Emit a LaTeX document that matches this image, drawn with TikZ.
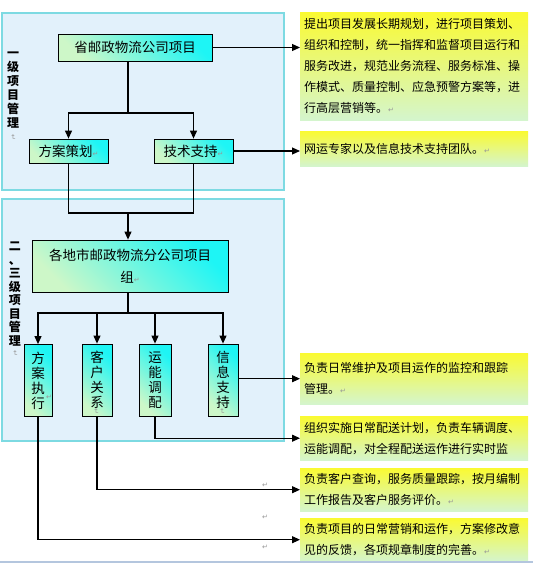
\documentclass[tikz,border=0pt]{standalone}
\usepackage{fontspec}
\setmainfont{Noto Sans CJK SC}
\newfontfamily\dvfont{DejaVu Sans}
\usetikzlibrary{arrows.meta}
\definecolor{panelfill}{RGB}{226,241,251}
\definecolor{panelline}{RGB}{125,218,226}
\definecolor{boxcyan}{RGB}{30,245,245}
\definecolor{boxgreen}{RGB}{205,247,200}
\definecolor{txtyellow}{RGB}{250,250,50}
\definecolor{txtgreen}{RGB}{212,245,205}
\definecolor{markgray}{RGB}{150,150,150}
\definecolor{footline}{RGB}{180,198,222}
\newcommand\retmark{{\dvfont\color{markgray}\fontsize{7}{7}\selectfont ↵}}
\begin{document}
\begin{tikzpicture}[x=1pt,y=-1pt,
  panel/.style={draw=panelline, fill=panelfill, line width=1.2pt},
  unit/.style={draw=black, line width=0.8pt, top color=boxcyan, bottom color=boxgreen, shading angle=-45, inner sep=0pt, align=center, font=\fontsize{13.5}{22}\selectfont},
  vunit/.style={unit, minimum height=72pt, font=\fontsize{13.5}{15}\selectfont},
  note/.style={top color=txtyellow, bottom color=txtgreen, minimum width=228pt, text width=220pt, inner xsep=4pt, inner ysep=0pt, align=left, anchor=north west, font=\fontsize{12}{21}\selectfont},
  conn/.style={line width=1.1pt, draw=black},
  arr/.style={conn, -{Triangle[length=8pt,width=7pt]}},
  side/.style={font=\bfseries\fontsize{12}{14}\selectfont, align=center, inner sep=0pt},
  stray/.style={inner sep=0pt}
]
\useasboundingbox (0,0) rectangle (533,563);
\fill[white] (0,0) rectangle (533,563);

% panels
\draw[panel] (2,13) rectangle (284,190);
\draw[panel] (2,199) rectangle (284,441);

% side labels
\node[side] (lab1) at (13,90) {一\\级\\项\\目\\管\\理};
\node[stray, rotate=-90] (lab1m) at (13,137) {\retmark};
\node[side, font=\bfseries\fontsize{12}{13.5}\selectfont] (lab2) at (15,294) {二\\、\\三\\级\\项\\目\\管\\理};
\node[stray, rotate=-90] (lab2m) at (15,353) {\retmark};

% units
\node[unit, minimum width=154pt, minimum height=27pt] (top) at (135,47.5) {省邮政物流公司项目};
\node[unit, minimum width=79pt, minimum height=24pt] (plan) at (68.5,151) {方案策划\retmark};
\node[unit, minimum width=79pt, minimum height=24pt] (tech) at (193.5,151) {技术支持\retmark};
\node[unit, minimum width=196pt, minimum height=52pt] (region) at (130,266) {各地市邮政物流分公司项目\\组\retmark};
\node[vunit, minimum width=28pt] (exec) at (38,380.5) {方\\案\\执\\行};
\node[vunit, minimum width=30pt] (cust) at (97,380) {客\\户\\关\\系};
\node[vunit, minimum width=32pt] (cap) at (155,380) {运\\能\\调\\配};
\node[vunit, minimum width=30pt] (info) at (223,380) {信\\息\\支\\持};
\node[stray] (execm) at (49,397) {\retmark};
\node[stray, rotate=-90] (custm) at (96,411) {\retmark};
\node[stray, rotate=-90] (infom) at (222,411) {\retmark};

% notes
\node[note, minimum height=108pt] (nA) at (300,12) {提出项目发展长期规划，进行项目策划、\\组织和控制，统一指挥和监督项目运行和\\服务改进，规范业务流程、服务标准、操\\作模式、质量控制、应急预警方案等，进\\行高层营销等。\retmark};
\node[note, minimum height=35pt] (nB) at (300,131) {网运专家以及信息技术支持团队。\retmark};
\node[note, minimum height=51pt] (nC) at (300,353) {负责日常维护及项目运作的监控和跟踪\\管理。\retmark};
\node[note, minimum height=44pt] (nD) at (300,416) {组织实施日常配送计划，负责车辆调度、\\运能调配，对全程配送运作进行实时监};
\node[note, minimum height=43pt] (nE) at (300,468) {负责客户查询，服务质量跟踪，按月编制\\工作报告及客户服务评价。\retmark};
\node[note, minimum height=43pt] (nF) at (300,518) {负责项目的日常营销和运作，方案修改意\\见的反馈，各项规章制度的完善。\retmark};

% stray paragraph marks
\node[stray] (m1) at (265,485) {\retmark};
\node[stray] (m2) at (265,517) {\retmark};
\node[stray] (m3) at (265,547) {\retmark};

% connectors
\coordinate (j1) at (128,113);
\coordinate (j2) at (128,213);
\coordinate (j3) at (128,313);
\draw[conn] (j1 |- top.south) -- (j1);
\draw[arr] (j1) -| (plan);
\draw[arr] (j1) -| (tech);
\draw[conn] (plan.south) |- (tech.south |- j2) -- (tech.south);
\draw[arr] (j2) -- (j2 |- region.north);
\draw[conn] (j2 |- region.south) -- (j3);
\draw[arr] (j3) -| (exec);
\draw[arr] (j3) -| (cust);
\draw[arr] (j3) -| (cap);
\draw[arr] (j3) -| (info);

\draw[arr] (top.east) -- (top.east -| nA.west);
\draw[arr] (tech.east) -- (tech.east -| nB.west);
\draw[arr] (info.east |- nC.west) -- (nC.west);
\draw[arr] (cap.south) |- (nD.west);
\draw[arr] (cust.south) |- (nE.west);
\draw[arr] (exec.south) |- (nF.west);

% footer line
\draw[footline, line width=1.5pt] (0,562) -- (533,562);
\end{tikzpicture}
\end{document}
